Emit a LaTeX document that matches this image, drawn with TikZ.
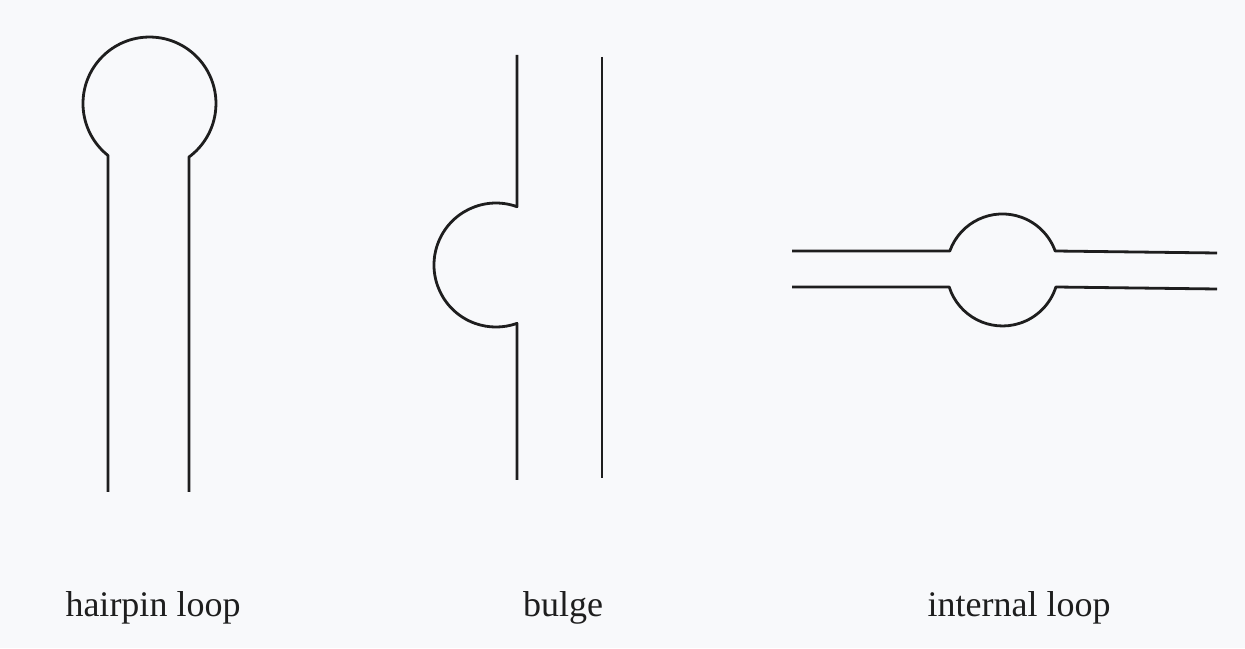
\documentclass[tikz,border=0pt]{standalone}
\usepackage{fontspec}
\setmainfont{Liberation Serif}
\definecolor{bg}{HTML}{F8F9FB}
\definecolor{ink}{HTML}{1E1E1E}
\begin{document}
\begin{tikzpicture}[x=1pt,y=1pt,
  strand/.style={draw=ink,line width=2.8pt,line join=round},
  lbl/.style={font=\fontsize{36}{40}\selectfont,text=ink,anchor=base,inner sep=0pt}]
\fill[bg] (0,0) rectangle (1245,648);
\useasboundingbox (0,0) rectangle (1245,648);
% hairpin loop
\coordinate (hpL) at (108,156);
\coordinate (hpR) at (189,156);
\draw[strand] (hpL) -- (108,492.5) arc[start angle=231.4,end angle=-53.6,radius=66.5] -- (hpR);
% bulge
\coordinate (bgT) at (517,593);
\coordinate (bgB) at (517,168);
\coordinate (bgRT) at (602,591);
\coordinate (bgRB) at (602,170);
\draw[strand] (bgT) -- (517,441.3) arc[start angle=70.2,end angle=289.8,radius=62] -- (bgB);
\draw[strand] (bgRT) -- (bgRB);
% internal loop
\coordinate (ilTL) at (792,397);
\coordinate (ilTR) at (1217,395);
\coordinate (ilBL) at (792,361);
\coordinate (ilBR) at (1217,359);
\draw[strand] (ilTL) -- (949.8,397) arc[start angle=160.2,end angle=19.8,radius=56] -- (ilTR);
\draw[strand] (ilBL) -- (949.2,361) arc[start angle=197.7,end angle=342.3,radius=56] -- (ilBR);
% labels
\node[lbl] (l1) at (153,31) {hairpin loop};
\node[lbl] (l2) at (563,31) {bulge};
\node[lbl] (l3) at (1019,31) {internal loop};
\end{tikzpicture}
\end{document}
